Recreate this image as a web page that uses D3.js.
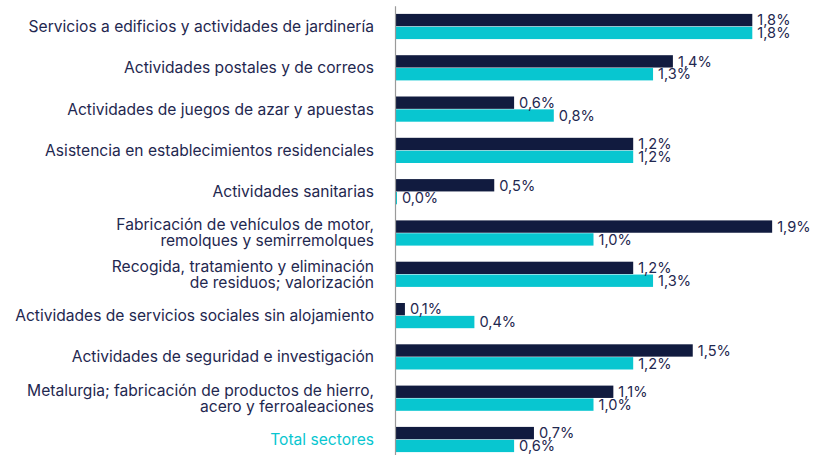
<!DOCTYPE html>
<html><head><meta charset="utf-8">
<script src="https://cdn.jsdelivr.net/npm/d3@7"></script>
<style>
body{margin:0;background:#fff;}
svg{display:block;font-family:Inter, "Open Sans", sans-serif;}
</style></head>
<body><svg id="chart" width="821" height="455"></svg>
<script>
const categories = [
  ["Servicios a edificios y actividades de jardinería"],
  ["Actividades postales y de correos"],
  ["Actividades de juegos de azar y apuestas"],
  ["Asistencia en establecimientos residenciales"],
  ["Actividades sanitarias"],
  ["Fabricación de vehículos de motor,", "remolques y semirremolques"],
  ["Recogida, tratamiento y eliminación", "de residuos; valorización"],
  ["Actividades de servicios sociales sin alojamiento"],
  ["Actividades de seguridad e investigación"],
  ["Metalurgia; fabricación de productos de hierro,", "acero y ferroaleaciones"],
  ["Total sectores"]
];
const seriesA = [1.8, 1.4, 0.6, 1.2, 0.5, 1.9, 1.2, 0.05, 1.5, 1.1, 0.7];
const seriesB = [1.8, 1.3, 0.8, 1.2, 0.01, 1.0, 1.3, 0.4, 1.2, 1.0, 0.6];
const seriesColors = ["#111b3f", "#08c6d0"];
const textColor = "#1f2850";

const svg = d3.select("#chart");
const keys = categories.map((c, i) => i);
const x = d3.scaleLinear().domain([0, 2]).range([395, 395 + 397]);
const y = d3.scaleBand().domain(keys).range([5.85, 460.15]).paddingInner(0.39).paddingOuter(0.195);
const ySub = d3.scaleBand().domain([0, 1]).range([0, y.bandwidth()]).paddingInner(0.04);
const fmt = v => d3.format(".1f")(v).replace(".", ",") + "%";

const data = keys.map(i => ({i, vals: [seriesA[i], seriesB[i]]}));

const g = svg.append("g").selectAll("g").data(data).join("g")
  .attr("transform", d => `translate(0,${y(d.i)})`);

g.selectAll("rect").data(d => d.vals.map((v, s) => ({v, s}))).join("rect")
  .attr("x", x(0))
  .attr("y", d => ySub(d.s))
  .attr("width", d => x(d.v) - x(0))
  .attr("height", ySub.bandwidth())
  .attr("fill", d => seriesColors[d.s]);

g.selectAll("text").data(d => d.vals.map((v, s) => ({v, s}))).join("text")
  .attr("x", d => x(d.v) + 5)
  .attr("y", d => ySub(d.s) + ySub.bandwidth() / 2)
  .attr("dy", "0.36em")
  .attr("font-size", 14.6)
  .attr("fill", textColor)
  .text(d => fmt(d.v));

const axis = svg.append("g")
  .attr("transform", `translate(${x(0)},0)`)
  .call(d3.axisLeft(y).tickSize(0).tickSizeOuter(0).tickPadding(21).tickFormat(""));
axis.select(".domain").attr("stroke", "#9a9a9a").attr("stroke-width", 1.2);
axis.selectAll(".tick text").each(function(d) {
  const t = d3.select(this);
  const lines = categories[d];
  t.text(null)
    .attr("font-size", 15.6)
    .attr("font-family", "Inter, 'Open Sans', sans-serif")
    .attr("fill", d === categories.length - 1 ? seriesColors[1] : textColor)
    .attr("dy", null);
  const n = lines.length;
  lines.forEach((ln, k) => {
    t.append("tspan").attr("x", -21)
      .attr("y", (k - (n - 1) / 2) * 16)
      .attr("dy", "0.35em")
      .text(ln);
  });
});
</script></body></html>
